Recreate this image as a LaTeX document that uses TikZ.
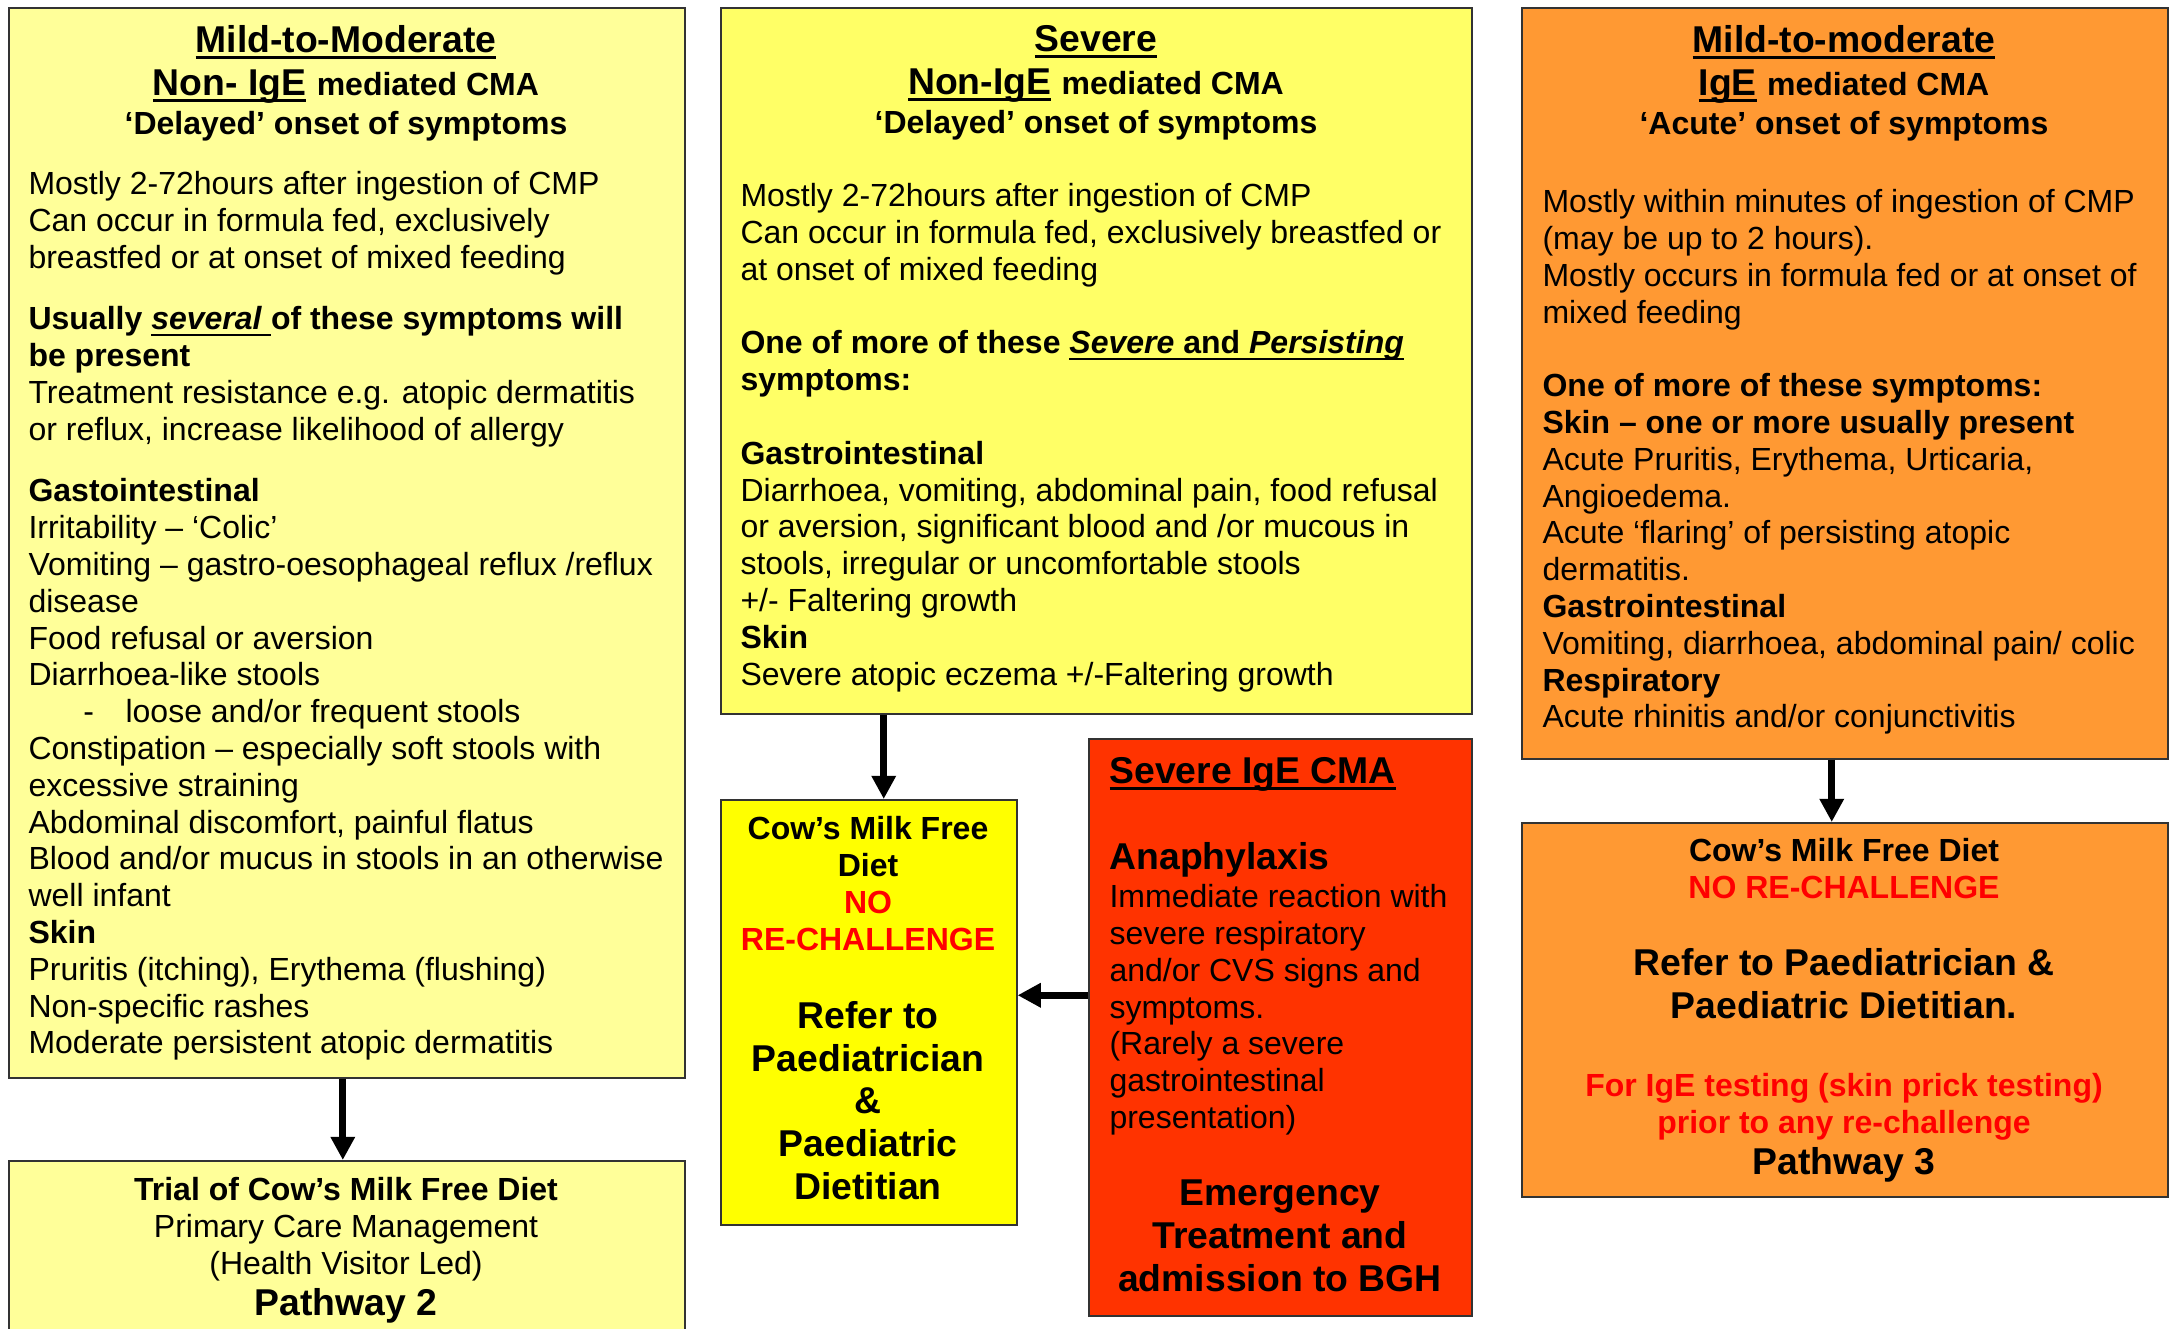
\documentclass[tikz,border=0pt]{standalone}
\usepackage{fontspec}
\setmainfont{Liberation Sans}
\usetikzlibrary{arrows.meta}
\definecolor{paleyel}{HTML}{FFFF99}
\definecolor{midyel}{HTML}{FFFF66}
\definecolor{fullyel}{HTML}{FFFF00}
\definecolor{alarmred}{HTML}{FF3300}
\definecolor{ambr}{HTML}{FF9933}
\definecolor{txtred}{HTML}{FF0000}
\newcommand{\undl}[1]{\setbox0=\hbox{#1}\rlap{\rule[-2.3pt]{\wd0}{0.9pt}}\box0\relax}
\newcommand{\szA}{\fontsize{12}{13.8}\selectfont}
\newcommand{\szB}{\fontsize{14}{16.1}\selectfont}
\tikzset{
  panel/.style={draw=black!80,line width=0.6pt,anchor=north west,inner sep=0pt},
  txt/.style={inner sep=0pt,font=\szA,align=left,anchor=north west},
  ctxt/.style={inner sep=0pt,font=\szA,align=center,anchor=north},
  flow/.style={line width=2.7pt,-{Triangle[length=8.7pt,width=8.7pt]}}
}

\begin{document}
\begin{tikzpicture}[x=0.375pt,y=-0.375pt]
		\useasboundingbox (0,0) rectangle (2170,1329);
		% panels
		\node[panel,fill=paleyel,minimum width=253.5pt,minimum height=401.25pt] (mildbox) at (8,7) {};
		\node[panel,fill=paleyel,minimum width=253.5pt,minimum height=70pt] (trialbox) at (8,1160) {};
		\node[panel,fill=midyel,minimum width=281.6pt,minimum height=264.75pt] (sevbox) at (720,7) {};
		\node[panel,fill=fullyel,minimum width=111pt,minimum height=159.4pt] (cmfbox) at (720,799) {};
		\node[panel,fill=alarmred,minimum width=143.6pt,minimum height=216.4pt] (anabox) at (1088,738) {};
		\node[panel,fill=ambr,minimum width=242.25pt,minimum height=281.6pt] (igebox) at (1521,7) {};
		\node[panel,fill=ambr,minimum width=242.25pt,minimum height=140.25pt] (pw3box) at (1521,822) {};
		% arrows
		\coordinate (bcdrop) at ([xshift=5.6pt]cmfbox.north);
		\coordinate (dcjoin) at ([yshift=6.4pt]cmfbox.east);
		\coordinate (efdrop) at ([xshift=-4.9pt]pw3box.north);
		\coordinate (agdrop) at ([xshift=-1.5pt]trialbox.north);
		\draw[flow] (mildbox.south -| agdrop) -- (agdrop);
		\draw[flow] (sevbox.south -| bcdrop) -- (bcdrop);
		\draw[flow] (anabox.west |- dcjoin) -- (dcjoin);
		\draw[flow] (igebox.south -| efdrop) -- (efdrop);
		% left column
		\node[ctxt,font=\szB\bfseries] (mildhead) at (346,25) {\undl{Mild-to-Moderate}\\ \undl{Non- IgE} {\szA mediated CMA}\\[-1.5pt] {\szA ‘Delayed’ onset of symptoms}};
		\node[txt] (mildtext) at (28,171) {Mostly 2-72hours after ingestion of CMP\\
			Can occur in formula fed, exclusively\\
			breastfed or at onset of mixed feeding\\[9.3pt]
			\textbf{Usually \undl{\textit{several }}of these symptoms will}\\
			\textbf{be present}\\
			Treatment resistance e.g. atopic dermatitis\\
			or reflux, increase likelihood of allergy\\[9.3pt]
			\textbf{Gastointestinal}\\
			Irritability – ‘Colic’\\
			Vomiting – gastro-oesophageal reflux /reflux\\
			disease\\
			Food refusal or aversion\\
			Diarrhoea-like stools\\
			\makebox[36.4pt][l]{\hspace*{20.6pt}-}loose and/or frequent stools\\
			Constipation – especially soft stools with\\
			excessive straining\\
			Abdominal discomfort, painful flatus\\
			Blood and/or mucus in stools in an otherwise\\
			well infant\\
			\textbf{Skin}\\
			Pruritis (itching), Erythema (flushing)\\
			Non-specific rashes\\
			Moderate persistent atopic dermatitis};
		\node[ctxt] (trialtext) at (346,1177) {\textbf{Trial of Cow’s Milk Free Diet}\\ Primary Care Management\\ (Health Visitor Led)\\[1.6pt] {\szB\bfseries Pathway 2}};
		% middle column
		\node[ctxt,font=\szB\bfseries] (sevhead) at (1096,25) {\undl{Severe}\\ \undl{Non-IgE} {\szA mediated CMA}\\[-1.5pt] {\szA ‘Delayed’ onset of symptoms}};
		\node[txt] (sevtext) at (740,183) {Mostly 2-72hours after ingestion of CMP\\
			Can occur in formula fed, exclusively breastfed or\\
			at onset of mixed feeding\\[13.8pt]
			\textbf{One of more of these \undl{\textit{Severe} and \textit{Persisting}}}\\
			\textbf{symptoms:}\\[13.8pt]
			\textbf{Gastrointestinal}\\
			Diarrhoea, vomiting, abdominal pain, food refusal\\
			or aversion, significant blood and /or mucous in\\
			stools, irregular or uncomfortable stools\\
			+/- Faltering growth\\
			\textbf{Skin}\\
			Severe atopic eczema +/-Faltering growth};
		\node[ctxt,font=\szA\bfseries] (cmftext) at (868,816) {Cow’s Milk Free\\ Diet\\ \textcolor{txtred}{NO}\\ \textcolor{txtred}{RE-CHALLENGE}\\[15.45pt]
			{\szB Refer to}\\[2.3pt] {\szB Paediatrician}\\[2.3pt] {\szB \&}\\[2.3pt] {\szB Paediatric}\\[2.3pt] {\szB Dietitian}};
		\node[txt] (anatext) at (1109,757) {{\szB\bfseries\undl{Severe IgE CMA}}\\[18.45pt]
			{\szB\bfseries Anaphylaxis}\\[0.45pt]
			Immediate reaction with\\
			severe respiratory\\
			and/or CVS signs and\\
			symptoms.\\
			(Rarely a severe\\
			gastrointestinal\\
			presentation)};
		\node[ctxt,font=\szB\bfseries] (emertext) at (1280,1179) {Emergency\\ Treatment and\\ admission to BGH};
		% right column
		\node[ctxt,font=\szB\bfseries] (igehead) at (1844,25) {\undl{Mild-to-moderate}\\ \undl{IgE} {\szA mediated CMA}\\[-1.5pt] {\szA ‘Acute’ onset of symptoms}};
		\node[txt] (igetext) at (1542,189) {Mostly within minutes of ingestion of CMP\\
			(may be up to 2 hours).\\
			Mostly occurs in formula fed or at onset of\\
			mixed feeding\\[13.8pt]
			\textbf{One of more of these symptoms:}\\
			\textbf{Skin – one or more usually present}\\
			Acute Pruritis, Erythema, Urticaria,\\
			Angioedema.\\
			Acute ‘flaring’ of persisting atopic\\
			dermatitis.\\
			\textbf{Gastrointestinal}\\
			Vomiting, diarrhoea, abdominal pain/ colic\\
			\textbf{Respiratory}\\
			Acute rhinitis and/or conjunctivitis};
		\node[ctxt,font=\szA\bfseries] (pw3text) at (1844,838) {Cow’s Milk Free Diet\\ \textcolor{txtred}{NO RE-CHALLENGE}\\[15.1pt]
			{\szB Refer to Paediatrician \&}\\[2.3pt] {\szB Paediatric Dietitian.}\\[15.45pt]
			\textcolor{txtred}{For IgE testing (skin prick testing)}\\ \textcolor{txtred}{prior to any re-challenge}\\[1.6pt]
			{\szB Pathway 3}};
	\end{tikzpicture}
\end{document}
